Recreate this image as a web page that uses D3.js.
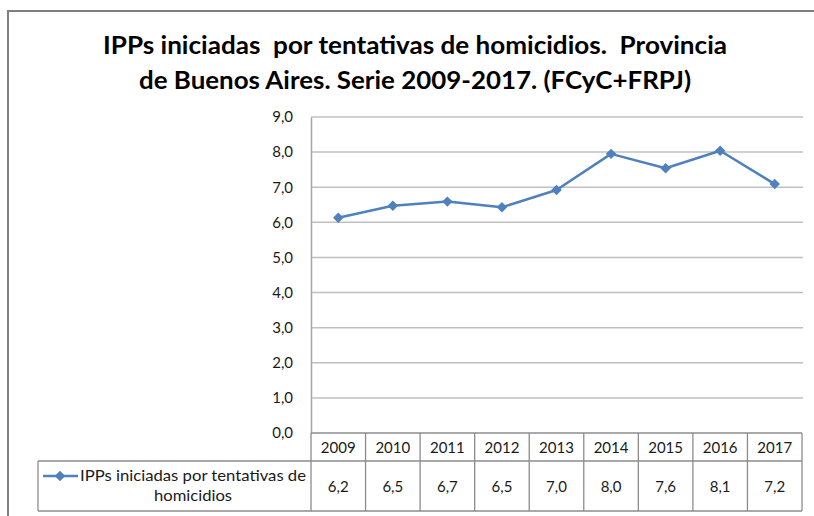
<!DOCTYPE html>
<html>
<head>
<meta charset="utf-8">
<script src="https://cdn.jsdelivr.net/npm/d3@7"></script>
<style>
  body { margin: 0; background: #fff; }
  svg { display: block; font-family: Lato, "Open Sans", sans-serif; }
  .pre { white-space: pre; }
</style>
</head>
<body>
<svg width="814" height="516"></svg>
<script>
// data
var years = ["2009", "2010", "2011", "2012", "2013", "2014", "2015", "2016", "2017"];
var values = [6.13, 6.47, 6.59, 6.43, 6.92, 7.95, 7.54, 8.04, 7.09];
var tableLabels = ["6,2", "6,5", "6,7", "6,5", "7,0", "8,0", "7,6", "8,1", "7,2"];
var yTicks = [0, 1, 2, 3, 4, 5, 6, 7, 8, 9];
var titleLines = ["IPPs iniciadas  por tentativas de homicidios.  Provincia",
                  "de Buenos Aires. Serie 2009-2017. (FCyC+FRPJ)"];
var titleWidths = [624, 552];
var seriesName = ["IPPs iniciadas por tentativas de", "homicidios"];
var seriesWidths = [226, 78];

var blue = "#4f81bd";
var svg = d3.select("svg");

// outer frame (top and left edges only are visible)
svg.append("line").attr("x1", 8).attr("x2", 814).attr("y1", 11).attr("y2", 11)
    .attr("stroke", "#7f7f7f").attr("stroke-width", 2);
svg.append("line").attr("x1", 8).attr("x2", 8).attr("y1", 10).attr("y2", 516)
    .attr("stroke", "#7f7f7f").attr("stroke-width", 2);

// title
svg.append("g").selectAll("text")
    .data(titleLines)
    .enter().append("text")
    .attr("class", "pre")
    .attr("x", 415)
    .attr("y", function(d, i) { return 54 + i * 35; })
    .attr("text-anchor", "middle")
    .attr("font-size", 24)
    .attr("font-weight", "bold")
    .attr("fill", "#000")
    .attr("textLength", function(d, i) { return titleWidths[i]; })
    .attr("lengthAdjust", "spacingAndGlyphs")
    .text(function(d) { return d; });

var x0 = 311, x1 = 802, yTop = 117, yBottom = 433;

var x = d3.scaleBand().domain(years).range([x0, x1]);
var y = d3.scaleLinear().domain([0, 9]).range([yBottom, yTop]);

// gridlines
svg.append("g").selectAll("line")
    .data(yTicks.filter(function(d) { return d > 0; }))
    .enter().append("line")
    .attr("x1", x0).attr("x2", x1 + 1)
    .attr("y1", function(d) { return y(d); })
    .attr("y2", function(d) { return y(d); })
    .attr("stroke", "#c0c0c0").attr("stroke-width", 1.5);

// y axis
var yAxis = svg.append("g")
    .attr("transform", "translate(" + x0 + ",0)")
    .call(d3.axisLeft(y).tickValues(yTicks).tickSize(0).tickPadding(18)
        .tickFormat(function(d) { return d3.format(".1f")(d).replace(".", ","); }));
yAxis.select(".domain").attr("stroke", "#a6a6a6").attr("stroke-width", 1.5);
yAxis.selectAll("text").attr("font-size", 15).attr("fill", "#1a1a1a")
    .attr("font-family", "Lato, sans-serif");

// data table
var rowTop = 433, rowMid = 461, rowBottom = 511, labelLeft = 38;
var tbl = svg.append("g").attr("stroke", "#8c8c8c").attr("stroke-width", 1.3);
tbl.append("line").attr("x1", x0).attr("x2", x1).attr("y1", rowTop).attr("y2", rowTop);
tbl.append("line").attr("x1", labelLeft).attr("x2", x1).attr("y1", rowMid).attr("y2", rowMid);
tbl.append("line").attr("x1", labelLeft).attr("x2", x1).attr("y1", rowBottom).attr("y2", rowBottom);
tbl.append("line").attr("x1", labelLeft).attr("x2", labelLeft).attr("y1", rowMid).attr("y2", rowBottom);
tbl.append("line").attr("x1", x0).attr("x2", x0).attr("y1", rowTop).attr("y2", rowBottom);
tbl.selectAll(".vdiv")
    .data(years)
    .enter().append("line")
    .attr("class", "vdiv")
    .attr("x1", function(d) { return x(d) + x.bandwidth(); })
    .attr("x2", function(d) { return x(d) + x.bandwidth(); })
    .attr("y1", rowTop).attr("y2", rowBottom);

svg.append("g").selectAll("text")
    .data(years)
    .enter().append("text")
    .attr("x", function(d) { return x(d) + x.bandwidth() / 2; })
    .attr("y", 453)
    .attr("text-anchor", "middle")
    .attr("font-size", 15)
    .attr("fill", "#1a1a1a")
    .text(function(d) { return d; });

svg.append("g").selectAll("text")
    .data(tableLabels)
    .enter().append("text")
    .attr("x", function(d, i) { return x(years[i]) + x.bandwidth() / 2; })
    .attr("y", 492)
    .attr("text-anchor", "middle")
    .attr("font-size", 15)
    .attr("fill", "#1a1a1a")
    .text(function(d) { return d; });

// legend key inside the table
var diamond = d3.symbol().type(d3.symbolDiamond2).size(70);
svg.append("line").attr("x1", 43).attr("x2", 78).attr("y1", 476).attr("y2", 476)
    .attr("stroke", blue).attr("stroke-width", 2.5);
svg.append("path").attr("d", diamond).attr("transform", "translate(60,476)").attr("fill", blue);
svg.append("g").selectAll("text")
    .data(seriesName)
    .enter().append("text")
    .attr("x", 193)
    .attr("y", function(d, i) { return 481 + i * 20; })
    .attr("text-anchor", "middle")
    .attr("font-size", 15)
    .attr("fill", "#1a1a1a")
    .attr("textLength", function(d, i) { return seriesWidths[i]; })
    .attr("lengthAdjust", "spacingAndGlyphs")
    .text(function(d) { return d; });

// series line
var line = d3.line()
    .x(function(d, i) { return x(years[i]) + x.bandwidth() / 2; })
    .y(function(d) { return y(d); });

svg.append("path")
    .datum(values)
    .attr("d", line)
    .attr("fill", "none")
    .attr("stroke", blue)
    .attr("stroke-width", 2.5)
    .attr("stroke-linejoin", "round");

svg.append("g").selectAll("path")
    .data(values)
    .enter().append("path")
    .attr("d", diamond)
    .attr("transform", function(d, i) {
        return "translate(" + (x(years[i]) + x.bandwidth() / 2) + "," + y(d) + ")";
    })
    .attr("fill", blue);
</script>
</body>
</html>
